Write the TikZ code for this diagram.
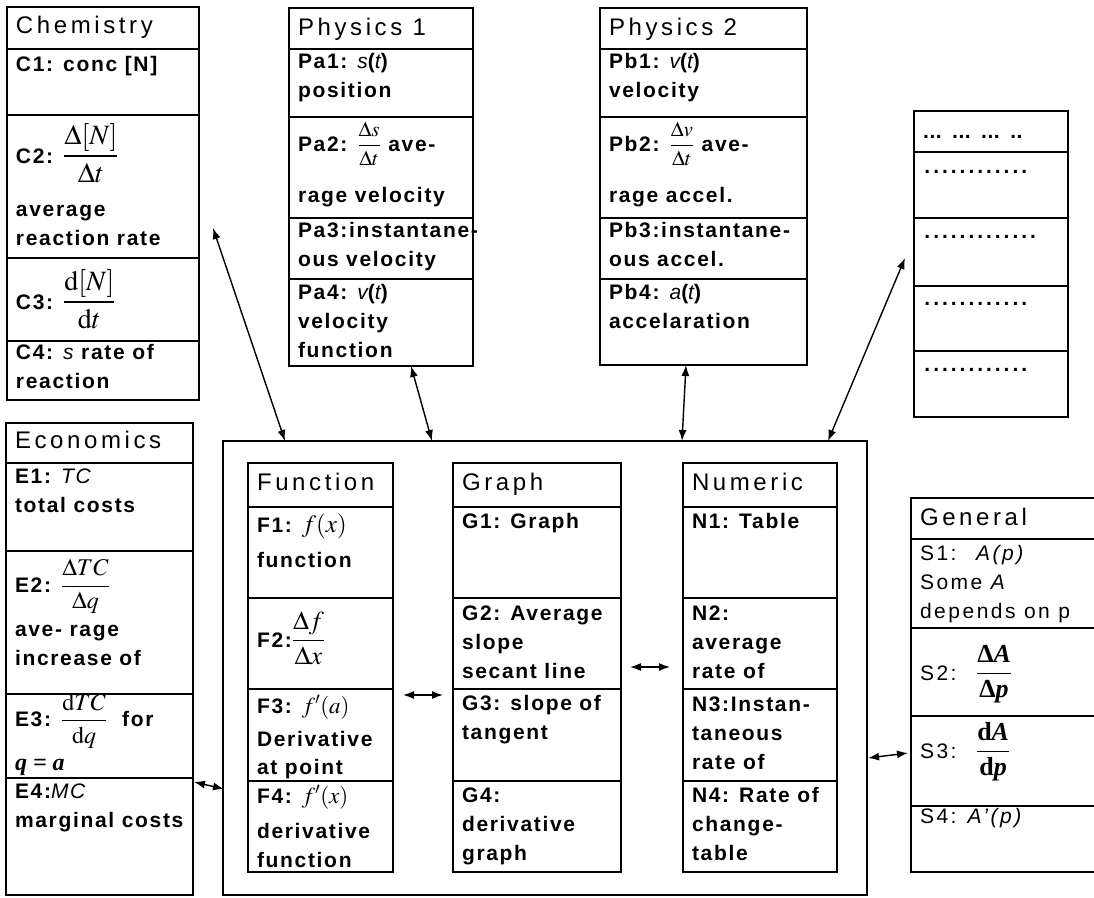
\documentclass[tikz,border=0pt]{standalone}
\usepackage{mathptmx}
\usepackage[no-math]{fontspec}
\setmainfont{Liberation Sans}
\newfontfamily\rowfont{Liberation Sans}[LetterSpace=8]
\newfontfamily\genfont{Liberation Sans}[LetterSpace=12]
\newfontfamily\headfont{Liberation Sans}[LetterSpace=15]
\newfontfamily\eqfont{Liberation Serif}
\usetikzlibrary{arrows.meta,positioning}

\newcommand{\cellt}[3]{\parbox[c][#1][t]{\cellw}{\raggedright\leftskip=9pt\rightskip=-14pt plus 1fil\relax\rule{0pt}{#2}#3}}
\newcommand{\fr}[3]{{\fontsize{#1}{#1}\selectfont$\displaystyle\frac{#2}{#3}$}}
\newcommand{\eqb}[1]{\mbox{\eqfont\bfseries #1}}
\newcommand{\vi}[1]{{\mdseries\itshape #1}}
\newcommand{\dotrow}[2]{\hbox to #1{\leaders\hbox to #2{\hss.\hss}\hfill}}

\begin{document}
\begin{tikzpicture}[x=1pt,y=-1pt,
    cell/.style={draw,line width=1.3pt,inner sep=0pt,outer sep=0pt,
                 font=\rowfont\bfseries\fontsize{21}{29}\selectfont},
    head/.style={cell,font=\headfont\fontsize{24}{29}\selectfont},
    gcell/.style={cell,font=\genfont\fontsize{21}{29}\selectfont},
    core/.style={draw,line width=2.6pt,inner sep=0pt,outer sep=0pt},
    dbl/.style={{Latex[length=11pt,width=8pt]}-{Latex[length=11pt,width=8pt]},line width=1.4pt}
  ]
  \useasboundingbox (0,0) rectangle (1094,897);
  \clip (0,0) rectangle (1094,897);

  \node[core,minimum width=644pt,minimum height=454pt,anchor=north west] (core) at (223,441) {};

  % Chemistry
  \def\cellw{192pt}
  \node[head,anchor=north west] (chem) at (7,7) {\cellt{42pt}{26pt}{Chemistry}};
  \node[cell,below=0pt of chem]  (chem1) {\cellt{66pt}{22pt}{C1: conc [N]}};
  \node[cell,below=0pt of chem1] (chem2) {\cellt{143pt}{48pt}{C2: \fr{28}{\Delta[N]}{\Delta t}\\[22pt]average\\reaction rate}};
  \node[cell,below=0pt of chem2] (chem3) {\cellt{83pt}{51pt}{C3: \fr{28}{\mathrm{d}[N]}{\mathrm{d}t}}};
  \node[cell,below=0pt of chem3] (chem4) {\cellt{59pt}{18pt}{C4: \vi{s} rate of\\reaction}};

  % Physics 1
  \def\cellw{184pt}
  \node[head,anchor=north west] (phya) at (289,8) {\cellt{41pt}{27pt}{Physics 1}};
  \node[cell,below=0pt of phya] (pa1) {\cellt{68pt}{19pt}{Pa1: \vi{s}(\vi{t})\\position}};
  \node[cell,below=0pt of pa1]  (pa2) {\cellt{101pt}{34pt}{Pa2: \fr{21}{\Delta s}{\Delta t} ave-\\[21pt]rage velocity}};
  \node[cell,below=0pt of pa2]  (pa3) {\cellt{61pt}{19pt}{Pa3:instantane-\\ous velocity}};
  \node[cell,below=0pt of pa3]  (pa4) {\cellt{87pt}{20pt}{Pa4: \vi{v}(\vi{t})\\velocity\\function}};

  % Physics 2
  \def\cellw{207pt}
  \node[head,anchor=north west] (phyb) at (600,8) {\cellt{41pt}{27pt}{Physics 2}};
  \node[cell,below=0pt of phyb] (pb1) {\cellt{68pt}{19pt}{Pb1: \vi{v}(\vi{t})\\velocity}};
  \node[cell,below=0pt of pb1]  (pb2) {\cellt{101pt}{34pt}{Pb2: \fr{21}{\Delta v}{\Delta t} ave-\\[21pt]rage accel.}};
  \node[cell,below=0pt of pb2]  (pb3) {\cellt{61pt}{19pt}{Pb3:instantane-\\ous accel.}};
  \node[cell,below=0pt of pb3]  (pb4) {\cellt{86pt}{20pt}{Pb4: \vi{a}(\vi{t})\\accelaration}};

  % open slot
  \def\cellw{154pt}
  \node[cell,anchor=north west] (dots1) at (914,111) {\cellt{41pt}{27pt}{\dotrow{18.9pt}{6.3pt}\hspace{10.1pt}\dotrow{18.9pt}{6.3pt}\hspace{10.1pt}\dotrow{18.9pt}{6.3pt}\hspace{10.1pt}\dotrow{12.6pt}{6.3pt}}};
  \node[cell,below=0pt of dots1] (dots2) {\cellt{66pt}{21pt}{\dotrow{105.6pt}{8.8pt}}};
  \node[cell,below=0pt of dots2] (dots3) {\cellt{68pt}{20pt}{\dotrow{114.4pt}{8.8pt}}};
  \node[cell,below=0pt of dots3] (dots4) {\cellt{65pt}{19pt}{\dotrow{105.6pt}{8.8pt}}};
  \node[cell,below=0pt of dots4] (dots5) {\cellt{66pt}{20pt}{\dotrow{105.6pt}{8.8pt}}};

  % Economics
  \def\cellw{187pt}
  \node[head,anchor=north west] (econ) at (6,423) {\cellt{40pt}{25pt}{Economics}};
  \node[cell,below=0pt of econ] (e1) {\cellt{88pt}{20pt}{E1: \vi{TC}\\total costs}};
  \node[cell,below=0pt of e1]   (e2) {\cellt{143pt}{41pt}{E2: \fr{24}{\Delta TC}{\Delta q}\\[11pt]ave- rage\\increase of}};
  \node[cell,below=0pt of e2]   (e3) {\cellt{84pt}{31pt}{E3: \fr{24}{\mathrm{d}TC}{\mathrm{d}q}\ \ for\\[10pt]{\eqfont\bfseries\itshape\fontsize{24}{24}\selectfont q = a}}};
  \node[cell,below=0pt of e3]   (e4) {\cellt{117pt}{20pt}{E4:\vi{MC}\\marginal costs}};

  % Function
  \def\cellw{145pt}
  \node[head,anchor=north west] (func) at (248,463) {\cellt{44pt}{27pt}{Function}};
  \node[cell,below=0pt of func] (f1) {\cellt{91pt}{25pt}{F1: {\fontsize{25}{25}\selectfont$f(x)$}\\[6pt]function}};
  \node[cell,below=0pt of f1]   (f2) {\cellt{91pt}{49pt}{F2:\fr{26}{\Delta f}{\Delta x}}};
  \node[cell,below=0pt of f2]   (f3) {\cellt{92pt}{24pt}{F3: {\fontsize{23}{23}\selectfont$f'(a)$}\\[4pt]Derivative\\[-1pt]at point}};
  \node[cell,below=0pt of f3]   (f4) {\cellt{91pt}{22pt}{F4: {\fontsize{23}{23}\selectfont$f'(x)$}\\[6pt]derivative\\function}};

  % Graph
  \def\cellw{168pt}
  \node[head,anchor=north west] (graph) at (453,463) {\cellt{44pt}{27pt}{Graph}};
  \node[cell,below=0pt of graph] (g1) {\cellt{91pt}{21pt}{G1: Graph}};
  \node[cell,below=0pt of g1]    (g2) {\cellt{91pt}{22pt}{G2: Average\\slope\\secant line}};
  \node[cell,below=0pt of g2]    (g3) {\cellt{92pt}{21pt}{G3: slope of\\tangent}};
  \node[cell,below=0pt of g3]    (g4) {\cellt{91pt}{21pt}{G4:\\derivative\\graph}};

  % Numeric
  \def\cellw{154pt}
  \node[head,anchor=north west] (numr) at (683,463) {\cellt{44pt}{27pt}{Numeric}};
  \node[cell,below=0pt of numr] (n1) {\cellt{91pt}{21pt}{N1: Table}};
  \node[cell,below=0pt of n1]   (n2) {\cellt{91pt}{22pt}{N2:\\average\\rate of}};
  \node[cell,below=0pt of n2]   (n3) {\cellt{92pt}{22pt}{N3:Instan-\\taneous\\rate of}};
  \node[cell,below=0pt of n3]   (n4) {\cellt{91pt}{21pt}{N4: Rate of\\change-\\table}};

  % General
  \def\cellw{200pt}
  \node[head,anchor=north west] (gen) at (911,498) {\cellt{41pt}{27pt}{General}};
  \node[gcell,below=0pt of gen] (s1) {\cellt{89pt}{21pt}{S1: \ \textit{A(p)}\\Some \textit{A}\\depends on p}};
  \node[gcell,below=0pt of s1]  (s2) {\cellt{88pt}{52pt}{S2: \ \fr{26}{\eqb{Δ\textit{A}}}{\eqb{Δ\textit{p}}}}};
  \node[gcell,below=0pt of s2]  (s3) {\cellt{90pt}{42pt}{S3: \ \fr{26}{\eqb{d\textit{A}}}{\eqb{d\textit{p}}}}};
  \node[gcell,below=0pt of s3]  (s4) {\cellt{66pt}{17pt}{S4: \textit{A’(p)}}};

  \draw[dbl] ([shift={(14,41.5)}]chem2.east) -- ([xshift=62pt]core.north west);
  \draw[dbl] ([xshift=30pt]pa4.south) -- ([xshift=209pt]core.north west);
  \draw[dbl] ([xshift=-17.5pt]pb4.south) -- ([xshift=459pt]core.north west);
  \draw[dbl] ([shift={(-9,6)}]dots3.west) -- ([xshift=605pt]core.north west);
  \draw[dbl] ([shift={(1,4)}]e4.north east) -- ([shift={(1,121)}]core.west);
  \draw[dbl] ([shift={(10,6)}]f3.north east) -- ([shift={(-10,6)}]g3.north west);
  \draw[dbl] ([shift={(9,-22)}]g2.south east) -- ([shift={(-13,-22)}]n2.south west);
  \draw[dbl] ([shift={(1,90)}]core.east) -- ([shift={(-3,-8)}]s3.west);
\end{tikzpicture}
\end{document}
